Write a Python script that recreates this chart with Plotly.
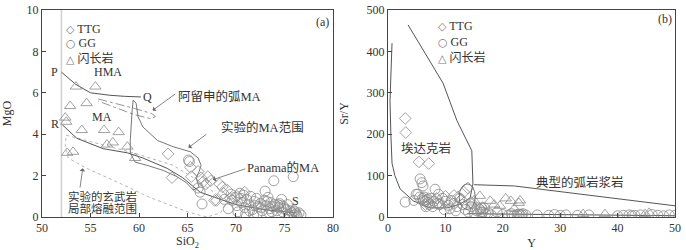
import plotly.graph_objects as go

# ---------------- Panel (a): SiO2 vs MgO ----------------
ttg_a_si = [63.0, 63.4, 65.3, 65.4, 66.1, 66.4, 66.6, 67.1, 67.4, 68.6, 68.7, 67.8, 69.4, 70.1, 70.9, 68.0, 66.9, 68.3, 69.1]
ttg_a_mg = [3.05, 1.9, 2.4, 1.95, 2.2, 1.9, 1.7, 1.95, 1.75, 1.45, 1.15, 0.8, 0.9, 1.0, 1.2, 0.8, 1.6, 1.6, 1.3]

gg_a_si = [65.1, 65.2, 66.5, 66.1, 66.3, 73.9, 75.9, 73.0, 68.8, 69.2,
           69.5, 69.9, 70.1, 70.4, 70.6, 70.9, 71.1, 71.3, 71.5, 71.7,
           71.9, 72.1, 72.3, 72.5, 72.7, 72.9, 73.1, 73.3, 73.5, 73.6,
           73.8, 74.0, 74.2, 74.4, 74.6, 74.8, 75.0, 75.2, 75.4, 75.6,
           75.8, 76.0, 76.1, 76.2, 76.3, 76.5, 76.7, 70.2, 70.8, 71.4,
           72.0, 72.6, 73.2, 73.7, 74.3, 74.9, 75.5, 76.0, 71.0, 72.2,
           73.4, 74.5, 69.6, 70.5, 71.8, 74.7, 75.3]
gg_a_mg = [2.75, 2.68, 0.63, 1.40, 1.20, 1.75, 1.95, 1.25, 0.85, 0.40,
           1.10, 0.95, 0.55, 1.15, 0.70, 0.45, 0.85, 0.60, 1.00, 0.35,
           0.75, 0.90, 0.50, 0.65, 0.30, 0.80, 0.55, 0.95, 0.40, 0.70,
           0.50, 0.60, 0.30, 0.45, 0.55, 0.25, 0.40, 0.35, 0.15, 0.30,
           0.20, 0.10, 0.25, 0.15, 0.05, 0.20, 0.10, 0.25, 1.05, 0.30,
           0.55, 0.45, 0.75, 0.25, 0.60, 0.50, 0.05, 0.30, 0.15, 0.15,
           0.20, 0.65, 0.80, 0.90, 0.10, 0.85, 0.60]

dio_a_si = [53.5, 55.5, 52.9, 54.6, 52.4, 52.5, 54.1, 56.4, 57.9, 57.3, 56.7, 58.8, 59.6, 52.6, 53.2]
dio_a_mg = [6.3, 6.3, 5.36, 5.5, 4.8, 4.6, 4.2, 4.2, 4.1, 3.6, 3.5, 3.4, 2.85, 3.1, 3.15]

# boundary lines (a)
pq_si = [52.0, 53.5, 55.0, 57.0, 58.5, 60.2]
pq_mg = [7.0, 6.4, 6.0, 5.88, 5.83, 5.8]
rs_si = [52.1, 53.6, 56.3, 58.8, 60.4, 62.9, 64.5, 66.3, 67.8, 70.0, 73.0, 76.2]
rs_mg = [4.45, 3.8, 3.3, 3.1, 2.85, 2.35, 1.9, 1.2, 0.95, 0.6, 0.35, 0.2]
expma_si = [59.4, 59.3, 59.1, 59.1, 59.6, 60.8, 62.5, 63.9, 64.9, 65.6, 66.2, 65.9, 66.2, 66.4, 66.1, 65.3, 63.5, 61.9, 60.4, 59.9, 59.7, 59.4]
expma_mg = [5.65, 5.2, 3.7, 3.1, 2.65, 2.5, 2.25, 1.95, 1.65, 1.3, 1.45, 1.9, 2.2, 2.5, 2.85, 3.15, 3.4, 3.7, 4.35, 4.85, 5.5, 5.65]
aleut_si = [55.8, 57.5, 59.5, 61.3, 61.7, 61.2, 59.5, 57.5, 55.8]
aleut_mg = [5.7, 5.5, 5.25, 5.0, 4.85, 4.75, 4.95, 5.3, 5.6]
basalt_si = [52.5, 56.3, 59.4, 63.5, 65.6, 67.7, 69.1, 68.4, 67.0, 65.0, 61.1, 57.7, 54.6, 52.7, 52.4, 52.5]
basalt_mg = [3.95, 3.5, 3.1, 2.5, 1.9, 1.2, 0.7, 0.2, 0.0, 0.25, 0.95, 1.7, 2.35, 2.85, 3.5, 3.95]
ref_si = [52, 52]
ref_mg = [0, 10]

# ---------------- Panel (b): Y vs Sr/Y ----------------
ttg_b_y = [3.0, 3.1, 5.4, 7.1, 13.9, 13.2, 10.0, 8.5, 11.5, 12.8, 9.0, 14.5, 16.0, 7.0, 6.5, 12.2]
ttg_b_sr = [238, 204, 133, 129, 70, 60, 50, 45, 52, 42, 30, 35, 20, 45, 30, 48]

gg_b_y = [5.6, 5.9, 6.1, 3.0, 4.9, 8.2, 4.5, 5.2, 5.5, 6.0,
          6.2, 6.5, 6.8, 7.0, 7.2, 7.5, 8.0, 8.6, 9.0, 9.5,
          10.0, 10.5, 11.0, 11.5, 12.0, 12.5, 13.0, 6.3, 6.6, 7.8,
          9.8, 11.8, 13.5, 14.0, 14.5, 15.0, 15.5, 16.0, 16.3, 16.5,
          16.8, 17.0, 17.5, 18.0, 19.0, 20.0, 21.0, 21.5, 22.0, 22.5,
          23.0, 23.5, 24.0, 26.0, 28.0, 29.0, 30.0, 31.0, 33.0, 35.0,
          40.0, 41.0, 42.0, 42.5, 43.0, 44.0, 46.0, 47.0, 48.0, 49.0,
          50.0, 22.8, 23.3, 16.2, 10.8, 8.8]
gg_b_sr = [92, 83, 75, 36, 55, 67, 40, 55, 48, 45,
           40, 38, 42, 35, 30, 45, 38, 33, 30, 45,
           38, 28, 40, 33, 25, 45, 30, 48, 25, 25,
           18, 15, 18, 12, 25, 10, 15, 18, 22, 12,
           22, 8, 10, 5, 12, 6, 5, 8, 4, 6,
           5, 8, 5, 5, 4, 6, 4, 5, 4, 5,
           3, 4, 5, 3, 4, 5, 6, 4, 3, 5,
           4, 7, 6, 12, 20, 55]

dio_b_y = [16.0, 17.8, 21.4, 22.8, 19.5, 34.0, 37.8, 44.8, 15.0, 18.5, 20.5, 23.0, 16.5, 45.5, 22.0, 14.5]
dio_b_sr = [51, 39, 39, 34, 27, 7, 7, 7, 40, 30, 45, 40, 25, 10, 20, 35]

adak_y = [0.7, 0.5, 0.35, 0.5, 0.7, 1.2, 2.1, 4.4, 7.3, 10.3, 12.5, 14.3, 14.8, 14.6, 12.0, 9.6, 3.5]
adak_sr = [420, 350, 281, 200, 130, 100, 68, 39, 22, 22, 31, 46, 80, 160, 233, 323, 464]
arc_y = [15.0, 22.0, 50.0]
arc_sr = [78, 75, 27]
arcbase_y = [13.8, 50.0]
arcbase_sr = [8, 3]

legend_labels = ["TTG", "GG", "闪长岩"]
legend_glyphs = ["◇", "○", "△"]

GRAY = "#8a8a8a"
LINE = "#555555"
TXT = "#333333"
FONT = "Liberation Serif, Noto Sans CJK SC, serif"

fig = go.Figure()

def pts(x, y, sym, size, xa, ya, name):
    fig.add_trace(go.Scatter(x=x, y=y, mode="markers", name=name, showlegend=False,
                             xaxis=xa, yaxis=ya,
                             marker=dict(symbol=sym, size=size, color=GRAY,
                                         line=dict(color=GRAY, width=0.8))))

def ln(x, y, xa, ya, color=LINE, width=1, dash="solid"):
    fig.add_trace(go.Scatter(x=x, y=y, mode="lines", showlegend=False, hoverinfo="skip",
                             xaxis=xa, yaxis=ya, line=dict(color=color, width=width, dash=dash)))

# panel a lines
ln(ref_si, ref_mg, "x", "y", color="#d0d0d0", width=1.5)
ln(basalt_si, basalt_mg, "x", "y", color="#b5b5b5", width=1, dash="dot")
ln(aleut_si, aleut_mg, "x", "y", color="#888888", width=0.9, dash="dashdot")
ln(expma_si, expma_mg, "x", "y", color="#666666", width=0.9)
ln(pq_si, pq_mg, "x", "y")
ln(rs_si, rs_mg, "x", "y")
# panel a points
pts(dio_a_si, dio_a_mg, "triangle-up-open", 10, "x", "y", "闪长岩")
pts(ttg_a_si, ttg_a_mg, "diamond-open", 9, "x", "y", "TTG")
pts(gg_a_si, gg_a_mg, "circle-open", 10, "x", "y", "GG")

# panel b lines
ln(adak_y, adak_sr, "x2", "y2")
ln(arc_y, arc_sr, "x2", "y2")
ln(arcbase_y, arcbase_sr, "x2", "y2")
pts(dio_b_y, dio_b_sr, "triangle-up-open", 10, "x2", "y2", "闪长岩")
pts(ttg_b_y, ttg_b_sr, "diamond-open", 9, "x2", "y2", "TTG")
pts(gg_b_y, gg_b_sr, "circle-open", 10, "x2", "y2", "GG")

axis_common = dict(showline=True, linecolor="#444", linewidth=1, mirror=True, ticks="inside",
                   ticklen=4, tickcolor="#444", showgrid=False, zeroline=False, automargin=False,
                   tickfont=dict(family=FONT, size=12, color=TXT),
                   title_font=dict(family=FONT, size=12, color=TXT))

fig.update_layout(
    width=686, height=250, margin=dict(l=42, r=11, t=10, b=33),
    paper_bgcolor="white", plot_bgcolor="white", showlegend=False,
    font=dict(family=FONT, size=12, color=TXT),
    xaxis=dict(domain=[0, 0.4597], range=[50, 80], dtick=5, anchor="y", title=dict(text="SiO<sub>2</sub>"), **axis_common),
    yaxis=dict(domain=[0, 1], range=[0, 10], dtick=2, anchor="x", title=dict(text="MgO"), **axis_common),
    xaxis2=dict(domain=[0.5466, 1], range=[0, 50], dtick=10, anchor="y2", title=dict(text="Y"), **axis_common),
    yaxis2=dict(domain=[0, 1], range=[0, 500], dtick=100, anchor="x2", title=dict(text="Sr/Y"), **axis_common),
)

def txt(x, y, s, xr, yr, size=12, xanchor="center", color=TXT):
    fig.add_annotation(x=x, y=y, xref=xr, yref=yr, text=s, showarrow=False, xanchor=xanchor,
                       font=dict(family=FONT, size=size, color=color))

def arrow(x0, y0, x1, y1, xr, yr):
    fig.add_annotation(x=x1, y=y1, ax=x0, ay=y0, xref=xr, yref=yr, axref=xr, ayref=yr, text="",
                       showarrow=True, arrowhead=1, arrowsize=1.2, arrowwidth=0.8, arrowcolor="#666")

# legends (text glyph style, as in the reference)
GLYPH = "<span style='font-family:DejaVu Sans;font-size:11px;fill:#777'>{}</span> {}"
for g, s, yp in zip(legend_glyphs, legend_labels, [0.952, 0.882, 0.812]):
    txt(0.0348, yp, GLYPH.format(g, s), "paper", "paper", size=12, xanchor="left")
for g, s, yp in zip(legend_glyphs, legend_labels, [0.966, 0.891, 0.816]):
    txt(0.622, yp, GLYPH.format(g, s), "paper", "paper", size=12, xanchor="left")

# panel a labels
txt(78.9, 9.4, "(a)", "x", "y")
txt(51.3, 7.0, "P", "x", "y")
txt(56.8, 7.0, "HMA", "x", "y")
txt(60.9, 5.8, "Q", "x", "y")
txt(56.2, 4.85, "MA", "x", "y")
txt(51.3, 4.5, "R", "x", "y")
txt(76.1, 0.75, "S", "x", "y")
txt(68.3, 5.8, "阿留申的弧MA", "x", "y", size=12.5)
txt(72.7, 4.3, "实验的MA范围", "x", "y", size=12.5)
txt(74.8, 2.4, "Panama的MA", "x", "y", size=12.5)
txt(56.2, 0.98, "实验的玄武岩", "x", "y", size=11.5)
txt(56.2, 0.42, "局部熔融范围", "x", "y", size=11.5)
arrow(63.9, 6.0, 61.4, 5.15, "x", "y")
arrow(67.1, 4.05, 65.1, 3.35, "x", "y")
arrow(71.1, 2.35, 67.6, 1.8, "x", "y")
arrow(53.9, 1.35, 54.2, 2.35, "x", "y")

# panel b labels
txt(48.3, 478, "(b)", "x2", "y2")
txt(6.6, 165, "埃达克岩", "x2", "y2", size=12.5)
txt(33.4, 83, "典型的弧岩浆岩", "x2", "y2", size=12.5)
fig.add_shape(type="circle", xref="x2", yref="y2", x0=12.4, x1=15.2, y0=18, y1=80,
              line=dict(color="#666", width=0.9))

fig.write_html("out.html", config={"displayModeBar": False},
               post_script="document.body.style.margin='0';document.body.style.overflow='hidden';")
